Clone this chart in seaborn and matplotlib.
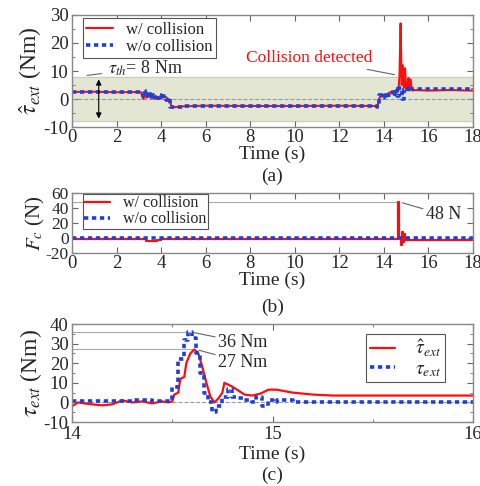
import matplotlib
matplotlib.use("Agg")
import matplotlib.pyplot as plt
import seaborn as sns
from matplotlib.ticker import MultipleLocator

sns.set_style("ticks")
plt.rcParams['font.family'] = ['Liberation Serif', 'DejaVu Serif']
plt.rcParams['mathtext.fontset'] = 'stix'
plt.rcParams['axes.unicode_minus'] = False

RED = '#ff0d0d'
BLUE = '#1f3fd6'

# ---- (a) estimated external torque, whole run
ta_red = [0, 1, 2, 3.0, 3.1, 3.15, 3.2, 3.3, 3.35, 3.4, 3.5, 3.55, 3.6, 3.7, 3.75, 3.8, 3.9,
          4.0, 4.05, 4.1, 4.2, 4.3, 4.4, 4.45, 4.5, 5, 6, 8, 10, 12, 13.6, 13.7, 13.75, 13.8,
          13.9, 14.0, 14.1, 14.2, 14.3, 14.4, 14.5, 14.6, 14.65, 14.7, 14.75, 14.8, 14.85,
          14.9, 14.95, 15.0, 15.05, 15.1, 15.15, 15.2, 15.25, 15.3, 15.4, 16, 17, 18]
a_red = [2.5, 2.6, 2.4, 2.5, 2.4, 1.0, 0.0, 1.8, 0.5, 1.2, 2.0, 0.3, 1.0, 0.0, 1.2, 0.5, 0.0,
         0.3, 1.0, 0.5, 0.8, 0.0, -0.3, -2.5, -3.0, -2.6, -2.4, -2.5, -2.5, -2.4, -2.5, -2.4,
         -1.5, 0.5, 1.0, 1.5, 1.0, 2.0, 2.5, 2.0, 3.0, 2.5, 3.0, 8.0, 27.0, 5.0, 12.0, 4.0,
         11.0, 3.0, 4.0, 7.5, 3.0, 7.0, 3.5, 3.0, 3.2, 3.0, 3.2, 3.0]
ta_blue = [0, 1, 2, 3.0, 3.1, 3.2, 3.3, 3.4, 3.5, 3.6, 3.7, 3.8, 3.9, 4.0, 4.1, 4.2, 4.3, 4.4,
           4.5, 5, 6, 8, 10, 12, 13.6, 13.7, 13.8, 13.9, 14.0, 14.1, 14.2, 14.3, 14.4, 14.5,
           14.6, 14.7, 14.8, 14.9, 15.0, 15.1, 15.2, 15.3, 16, 17, 17.5, 18]
a_blue = [2.6, 2.5, 2.5, 2.5, 2.0, 1.0, 3.0, 0.5, 2.5, 0.0, 1.5, 0.5, 1.5, 0.0, 1.0, -0.5, 0.5,
          -3.0, -2.7, -2.6, -2.5, -2.5, -2.6, -2.5, -2.6, -3.0, 1.5, 0.5, 2.0, 0.5, 1.5, 2.5,
          1.0, 3.5, 1.0, 4.0, 0.0, 3.5, 4.0, 3.0, 3.5, 3.5, 3.5, 3.5, 3.5, 3.8]

# ---- (b) contact force
tb_red = [0, 3.2, 3.3, 3.5, 3.8, 4.0, 14.5, 14.6, 14.65, 14.7, 14.75, 14.8, 14.85, 14.9,
          14.95, 15.0, 15.1, 16, 18]
b_red = [-2, -2, -3.5, -3.5, -3, -2, -2, -1, 48, 0, -10, 8, -5, 5, -2, -3, -3, -3, -3]
tb_blue = [0, 6, 12, 18]
b_blue = [0.5, 0.5, 0.5, 0.5]

# ---- (c) zoom around collision
tc_red = [14.0, 14.03, 14.06, 14.1, 14.15, 14.2, 14.25, 14.3, 14.35, 14.4, 14.45, 14.48,
          14.5, 14.51, 14.53, 14.54, 14.56, 14.57, 14.59, 14.61, 14.63, 14.65, 14.67, 14.69,
          14.71, 14.73, 14.75, 14.76, 14.78, 14.8, 14.83, 14.86, 14.9, 14.94, 14.98, 15.02,
          15.1, 15.2, 15.3, 15.5, 16.0]
c_red = [-2, 0, -0.5, -1, -1.5, -1, 1, 0, 0.5, -0.5, 0.5, 0, 0.5, 4, 5, 12, 13, 20, 25, 27,
         25, 18, 10, 3, 0, 2, 5, 10, 9, 8, 6, 4, 3.5, 4.5, 6.5, 6.5, 5, 4, 3.5, 3.5, 3.5]
tc_blue = [14.0, 14.1, 14.2, 14.3, 14.4, 14.47, 14.5, 14.53, 14.56, 14.58, 14.6, 14.62, 14.64,
           14.66, 14.68, 14.7, 14.72, 14.75, 14.78, 14.8, 14.83, 14.86, 14.9, 14.92, 14.95,
           14.98, 15.0, 15.02, 15.1, 15.5, 16.0]
c_blue = [0.5, 0.5, 0.5, 1, 0.5, 0.5, 8, 22, 32, 36, 33, 25, 15, 5, 0, -5, -2, 3, 7, 3, 2, 1,
          0, 3, -2, 1, 0, 1, 0, 0, 0]

W, H = 481, 486
fig = plt.figure(figsize=(W / 100, H / 100), dpi=100)

def box(x0, y_top, x1, y_bot):
    return [x0 / W, 1 - y_bot / H, (x1 - x0) / W, (y_bot - y_top) / H]

ax_a = fig.add_axes(box(72, 15, 473, 127))
ax_b = fig.add_axes(box(72, 193, 473, 253))
ax_c = fig.add_axes(box(72, 324, 473, 422))

def style(ax, pad=0):
    for s in ax.spines.values():
        s.set_color('#888888')
        s.set_linewidth(1.0)
    ax.tick_params(direction='in', which='both', top=True, right=True, labelsize=13.5,
                   color='#666666', pad=1.5)
    ax.tick_params(axis='y', pad=2.5)
    ax.tick_params(which='major', length=4)
    ax.tick_params(which='minor', length=2.5)
    ax.set_xlabel('Time (s)', fontsize=14, labelpad=pad)

def legend(ax, **kw):
    leg = ax.legend(frameon=True, fancybox=False, edgecolor='#555555', framealpha=1,
                    borderaxespad=0, **kw)
    leg.get_frame().set_linewidth(0.8)
    return leg

# (a)
ax_a.axhspan(-8, 8, color='#e2e6d3', zorder=0)
ax_a.axhline(-8, color='#c9cfb8', lw=0.8, zorder=0)
ax_a.axhline(8, color='#c9cfb8', lw=0.8, zorder=0)
ax_a.axhline(0, color='#999999', lw=0.8, ls='--', zorder=1)
sns.lineplot(x=ta_red, y=a_red, ax=ax_a, color=RED, lw=1.5, label='w/ collision',
             estimator=None, sort=False)
sns.lineplot(x=ta_blue, y=a_blue, ax=ax_a, color=BLUE, lw=2.6, ls=(0, (1.2, 1.0)),
             label='w/o collision', estimator=None, sort=False, drawstyle='steps-post')
ax_a.set_xlim(0, 18)
ax_a.set_ylim(-10, 30)
ax_a.set_xticks(range(0, 19, 2))
ax_a.set_yticks([-10, 0, 10, 20, 30])
ax_a.yaxis.set_minor_locator(MultipleLocator(5))
ax_a.annotate('', xy=(1.2, -8), xytext=(1.2, 8),
              arrowprops=dict(arrowstyle='<|-|>', color='black', lw=0.8, mutation_scale=8))
ax_a.annotate(r'$\tau_{th}$= 8 Nm', xy=(0.55, 8.3), xytext=(1.6, 11.0), fontsize=13,
              va='center', zorder=6,
              arrowprops=dict(arrowstyle='-', color='#666666', lw=0.8))
ax_a.annotate('Collision detected', xy=(14.6, 8.5), xytext=(7.8, 14.6), fontsize=12.5,
              color=RED, va='center', arrowprops=dict(arrowstyle='-', color='#666666', lw=0.8,
                                                     shrinkA=0))
ax_a.set_ylabel(r'$\hat{\tau}_{ext}$ (Nm)', fontsize=17, labelpad=0)
style(ax_a)
legend(ax_a, loc='upper left', fontsize=12, handlelength=1.6, borderpad=0.2,
       labelspacing=0.05, handletextpad=0.8, bbox_to_anchor=(0.027, 0.97))
ax_a.text(9, -27.5, '(a)', fontsize=14, ha='center', va='center')

# (b)
ax_b.axhline(48, xmin=0, xmax=14.65 / 18, color='#aaaaaa', lw=0.8)
sns.lineplot(x=tb_red, y=b_red, ax=ax_b, color=RED, lw=1.6, label='w/ collision',
             estimator=None, sort=False, drawstyle='steps-post')
sns.lineplot(x=tb_blue, y=b_blue, ax=ax_b, color=BLUE, lw=2.6, ls=(0, (1.2, 1.0)),
             label='w/o collision', estimator=None, sort=False)
ax_b.set_xlim(0, 18)
ax_b.set_ylim(-20, 60)
ax_b.set_xticks(range(0, 19, 2))
ax_b.set_yticks([-20, 0, 20, 40, 60])
ax_b.annotate('48 N', xy=(14.7, 48), xytext=(15.9, 31), fontsize=13, va='center',
              arrowprops=dict(arrowstyle='-', color='#666666', lw=0.8, shrinkA=0))
ax_b.set_ylabel(r'$F_c$ (N)', fontsize=15, labelpad=-1)
style(ax_b)
ax_b.tick_params(axis='y', labelsize=12.5)
legend(ax_b, loc='upper left', fontsize=11.5, handlelength=1.6, borderpad=0.1,
       labelspacing=0.0, handletextpad=0.8, bbox_to_anchor=(0.027, 0.99))
ax_b.text(9, -92, '(b)', fontsize=14, ha='center', va='center')

# (c)
ax_c.axhline(0, color='#999999', lw=0.8, ls='--', zorder=1)
ax_c.axhline(36, xmin=0, xmax=0.29, color='#aaaaaa', lw=0.8)
ax_c.axhline(27, xmin=0, xmax=0.305, color='#aaaaaa', lw=0.8)
sns.lineplot(x=tc_red, y=c_red, ax=ax_c, color=RED, lw=1.6, label=r'$\hat{\tau}_{ext}$',
             estimator=None, sort=False)
sns.lineplot(x=tc_blue, y=c_blue, ax=ax_c, color=BLUE, lw=2.6, ls=(0, (1.2, 1.0)),
             label=r'$\tau_{ext}$', estimator=None, sort=False, drawstyle='steps-post')
ax_c.set_xlim(14, 16)
ax_c.set_ylim(-10, 40)
ax_c.set_xticks([14, 15, 16])
ax_c.xaxis.set_minor_locator(MultipleLocator(0.5))
ax_c.set_yticks([-10, 0, 10, 20, 30, 40])
ax_c.yaxis.set_minor_locator(MultipleLocator(5))
ax_c.annotate('36 Nm', xy=(14.59, 36), xytext=(14.73, 30.5), fontsize=13, va='center',
              arrowprops=dict(arrowstyle='-', color='#666666', lw=0.8, shrinkA=0))
ax_c.annotate('27 Nm', xy=(14.62, 27), xytext=(14.73, 20.5), fontsize=13, va='center',
              arrowprops=dict(arrowstyle='-', color='#666666', lw=0.8, shrinkA=0))
ax_c.set_ylabel(r'$\tau_{ext}$ (Nm)', fontsize=17, labelpad=0)
style(ax_c, pad=2)
ax_c.tick_params(axis='x', pad=3)
legend(ax_c, loc='upper right', fontsize=14, handlelength=1.3, borderpad=0.2,
       labelspacing=0.05, handletextpad=1.0, bbox_to_anchor=(0.93, 0.9))
ax_c.text(15, -37, '(c)', fontsize=14, ha='center', va='center')

fig.savefig('out.png', dpi=100)
